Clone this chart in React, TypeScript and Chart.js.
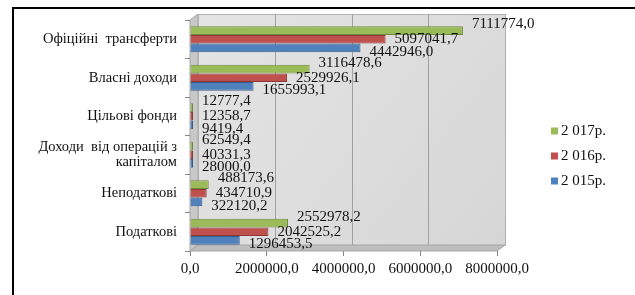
import React, { useEffect, useRef } from "react";
import { Chart, registerables } from "chart.js";

Chart.register(...registerables);

const categories: (string | string[])[] = [
  "Офіційні  трансферти",
  "Власні доходи",
  "Цільові фонди",
  ["Доходи  від операцій з", "капіталом"],
  "Неподаткові",
  "Податкові",
];
const series2017 = [7111774.0, 3116478.6, 12777.4, 62549.4, 488173.6, 2552978.2];
const series2016 = [5097041.7, 2529926.1, 12358.7, 40331.3, 434710.9, 2042525.2];
const series2015 = [4442946.0, 1655993.1, 9419.4, 28000.0, 322120.2, 1296453.5];
const seriesLabels = ["2 017р.", "2 016р.", "2 015р."];
const xMin = 0;
const xMax = 8000000;
const xStep = 2000000;

const FONT = "'Liberation Serif', 'Times New Roman', serif";
const COLORS = ["#9BBB59", "#C0504D", "#4F81BD"];
const BORDERS = ["#71893F", "#8C3836", "#385D8A"];
const DEPTH_X = 8;
const DEPTH_Y = -6;

const fmt = (v: number) => v.toFixed(1).replace(".", ",");

const decorPlugin = {
  id: "decor",
  beforeDraw(chart: any) {
    const { ctx, chartArea, scales } = chart;
    const { left, right, top, bottom } = chartArea;
    ctx.save();
    ctx.fillStyle = "#ffffff";
    ctx.fillRect(0, 0, chart.width, chart.height);
    ctx.strokeStyle = "#000000";
    ctx.lineWidth = 2;
    ctx.strokeRect(13, 8, 700, 400);
    const g = ctx.createLinearGradient(left + DEPTH_X, top + DEPTH_Y, right + DEPTH_X, bottom);
    g.addColorStop(0, "#E4E4E4");
    g.addColorStop(1, "#D6D6D6");
    ctx.fillStyle = g;
    ctx.fillRect(left + DEPTH_X, top + DEPTH_Y, right - left, bottom - top);
    ctx.fillStyle = "#C8C8C8";
    ctx.beginPath();
    ctx.moveTo(left, top);
    ctx.lineTo(left + DEPTH_X, top + DEPTH_Y);
    ctx.lineTo(left + DEPTH_X, bottom + DEPTH_Y);
    ctx.lineTo(left, bottom);
    ctx.closePath();
    ctx.fill();
    ctx.strokeStyle = "#A6A6A6";
    ctx.lineWidth = 1;
    ctx.stroke();
    const xs = scales.x;
    ctx.strokeStyle = "#A0A0A0";
    ctx.lineWidth = 1;
    xs.ticks.forEach((t: any) => {
      const px = Math.round(xs.getPixelForValue(t.value) + DEPTH_X) + 0.5;
      ctx.beginPath();
      ctx.moveTo(px, top + DEPTH_Y);
      ctx.lineTo(px, bottom + DEPTH_Y);
      ctx.stroke();
    });
    ctx.strokeStyle = "#B0B0B0";
    ctx.strokeRect(left + DEPTH_X + 0.5, top + DEPTH_Y + 0.5, right - left, bottom - top);
    ctx.fillStyle = "#BEBEBE";
    ctx.beginPath();
    ctx.moveTo(left, bottom);
    ctx.lineTo(left + DEPTH_X, bottom + DEPTH_Y);
    ctx.lineTo(right + DEPTH_X, bottom + DEPTH_Y);
    ctx.lineTo(right, bottom);
    ctx.closePath();
    ctx.fill();
    ctx.strokeStyle = "#A6A6A6";
    ctx.stroke();
    ctx.restore();
  },
  afterDatasetsDraw(chart: any) {
    const { ctx } = chart;
    const dys = [-6, 0, 4];
    ctx.save();
    ctx.font = `15px ${FONT}`;
    ctx.fillStyle = "#111111";
    ctx.textAlign = "left";
    ctx.textBaseline = "middle";
    chart.data.datasets.forEach((ds: any, di: number) => {
      const meta = chart.getDatasetMeta(di);
      meta.data.forEach((el: any, i: number) => {
        ctx.fillText(fmt(ds.data[i]), el.x + 9, el.y + dys[di]);
      });
    });
    ctx.restore();
  },
  afterDraw(chart: any) {
    const { ctx } = chart;
    ctx.save();
    ctx.font = `15px ${FONT}`;
    ctx.textAlign = "left";
    ctx.textBaseline = "middle";
    chart.data.datasets.forEach((ds: any, i: number) => {
      const y = 131 + 25 * i;
      ctx.fillStyle = ds.backgroundColor;
      ctx.fillRect(551, y - 3.5, 7, 7);
      ctx.fillStyle = "#111111";
      ctx.fillText(ds.label, 561, y);
    });
    ctx.restore();
  },
};

export default function App() {
  const ref = useRef<HTMLCanvasElement | null>(null);
  useEffect(() => {
    if (!ref.current) return;
    const data = [series2017, series2016, series2015];
    const chart = new Chart(ref.current, {
      type: "bar",
      data: {
        labels: categories as any,
        datasets: data.map((d, i) => ({
          label: seriesLabels[i],
          data: d,
          backgroundColor: COLORS[i],
          borderColor: BORDERS[i],
          borderWidth: 1,
          barPercentage: 1,
          categoryPercentage: 0.68,
          minBarLength: 3,
        })),
      },
      options: {
        indexAxis: "y",
        responsive: false,
        animation: false,
        layout: { padding: { left: 15, top: 20, right: 138, bottom: 0 } },
        plugins: { legend: { display: false }, tooltip: { enabled: false } },
        scales: {
          x: {
            min: xMin,
            max: xMax,
            border: { display: false },
            grid: { drawOnChartArea: false, drawTicks: true, tickLength: 5, color: "#888888" },
            ticks: {
              stepSize: xStep,
              padding: 4,
              color: "#111111",
              font: { family: FONT, size: 15 },
              callback: (v: any) => fmt(Number(v)),
            },
            afterFit: (s: any) => {
              s.height = 44;
            },
          },
          y: {
            border: { display: false },
            grid: { offset: true, drawOnChartArea: false, drawTicks: true, tickLength: 5, color: "#888888" },
            ticks: {
              autoSkip: false,
              padding: 8,
              color: "#111111",
              font: { family: FONT, size: 14.5, lineHeight: 1.05 },
            },
            afterFit: (s: any) => {
              s.width = 175;
            },
          },
        },
      },
      plugins: [decorPlugin],
    });
    return () => chart.destroy();
  }, []);
  return (
    <div style={{ position: "fixed", left: 0, top: 0, width: 635, height: 295, background: "#fff" }}>
      <canvas ref={ref} width={635} height={295} style={{ display: "block" }} />
    </div>
  );
}
